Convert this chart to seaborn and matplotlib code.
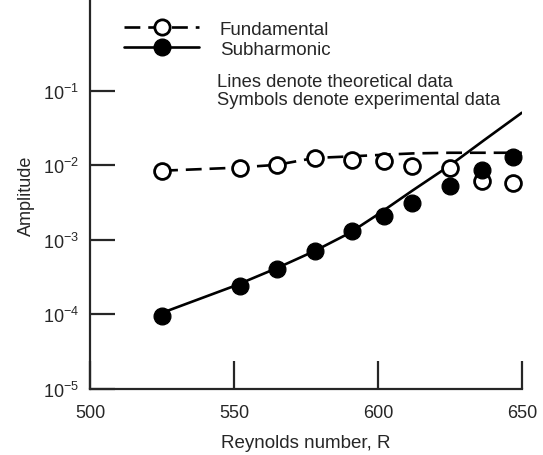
import matplotlib
matplotlib.use("Agg")
import matplotlib.pyplot as plt
from matplotlib.lines import Line2D
import seaborn as sns
import numpy as np

# experimental data (symbols)
exp_R = [525, 552, 565, 578, 591, 602, 612, 625, 636, 647]
fund_exp = [8.3e-3, 9.3e-3, 1.0e-2, 1.25e-2, 1.2e-2, 1.14e-2, 9.8e-3, 9.3e-3, 6.1e-3, 5.8e-3]
sub_exp = [9.5e-5, 2.4e-4, 4.1e-4, 7.0e-4, 1.3e-3, 2.1e-3, 3.1e-3, 5.3e-3, 8.6e-3, 1.3e-2]

# theoretical data (lines)
theo_R = [525, 550, 565, 578, 590, 600, 612, 625, 637, 650]
fund_theo = [8.5e-3, 9.3e-3, 1.02e-2, 1.26e-2, 1.32e-2, 1.38e-2, 1.45e-2, 1.48e-2, 1.48e-2, 1.48e-2]
sub_theo = [1.05e-4, 2.4e-4, 4.2e-4, 7.1e-4, 1.23e-3, 2.2e-3, 4.6e-3, 1.0e-2, 2.2e-2, 5.1e-2]

yticks = [1e-5, 1e-4, 1e-3, 1e-2, 1e-1]
ytick_labels = ["10$^{-5}$", "10$^{-4}$", "10$^{-3}$", "10$^{-2}$", "10$^{-1}$"]
xticks = [500, 550, 600, 650]

sns.set_style("ticks")
plt.rcParams["font.family"] = ["Liberation Sans", "DejaVu Sans"]
plt.rcParams["mathtext.default"] = "regular"

fig = plt.figure(figsize=(5.43, 4.56), dpi=100)
ax = fig.add_axes([0.166, 0.145, 0.795, 0.85])

sns.lineplot(x=theo_R, y=fund_theo, ax=ax, color="black", lw=1.9,
             linestyle=(0, (6, 3)), sort=False)
sns.lineplot(x=theo_R, y=sub_theo, ax=ax, color="black", lw=1.9, sort=False)
sns.scatterplot(x=exp_R, y=fund_exp, ax=ax, marker="o", s=130,
                facecolor="white", edgecolor="black", linewidth=2, zorder=3)
sns.scatterplot(x=exp_R, y=sub_exp, ax=ax, marker="o", s=145,
                color="black", edgecolor="black", zorder=3)

ax.set_yscale("log")
ax.set_xlim(500, 650)
ax.set_ylim(1e-5, 1.6)
ax.set_yticks(yticks)
ax.set_yticklabels(ytick_labels)
ax.minorticks_off()
ax.set_xticks(xticks)
ax.tick_params(axis="y", direction="in", length=18, width=1.6, labelsize=13, pad=8)
ax.tick_params(axis="x", direction="in", length=20, width=1.6, labelsize=13, pad=11)
sns.despine(ax=ax)
for sp in ["left", "bottom"]:
    ax.spines[sp].set_linewidth(1.6)

ax.set_xlabel("Reynolds number, R", fontsize=13.5, labelpad=9)
ax.set_ylabel("Amplitude", fontsize=13, labelpad=6)

handles = [
    Line2D([], [], color="black", lw=1.9, linestyle=(0, (6, 3)), marker="o",
           markersize=11, markerfacecolor="white", markeredgewidth=2),
    Line2D([], [], color="black", lw=1.9, marker="o", markersize=12),
]
ax.legend(handles, ["Fundamental", "Subharmonic"], loc="upper left",
          bbox_to_anchor=(0.04, 0.993), frameon=False, fontsize=13.5,
          handlelength=4.0, handletextpad=1.1, labelspacing=0.15)

ax.text(0.295, 0.815, "Lines denote theoretical data\nSymbols denote experimental data",
        transform=ax.transAxes, fontsize=13.2, va="top", linespacing=1.1)

fig.savefig("out.png", dpi=100)
